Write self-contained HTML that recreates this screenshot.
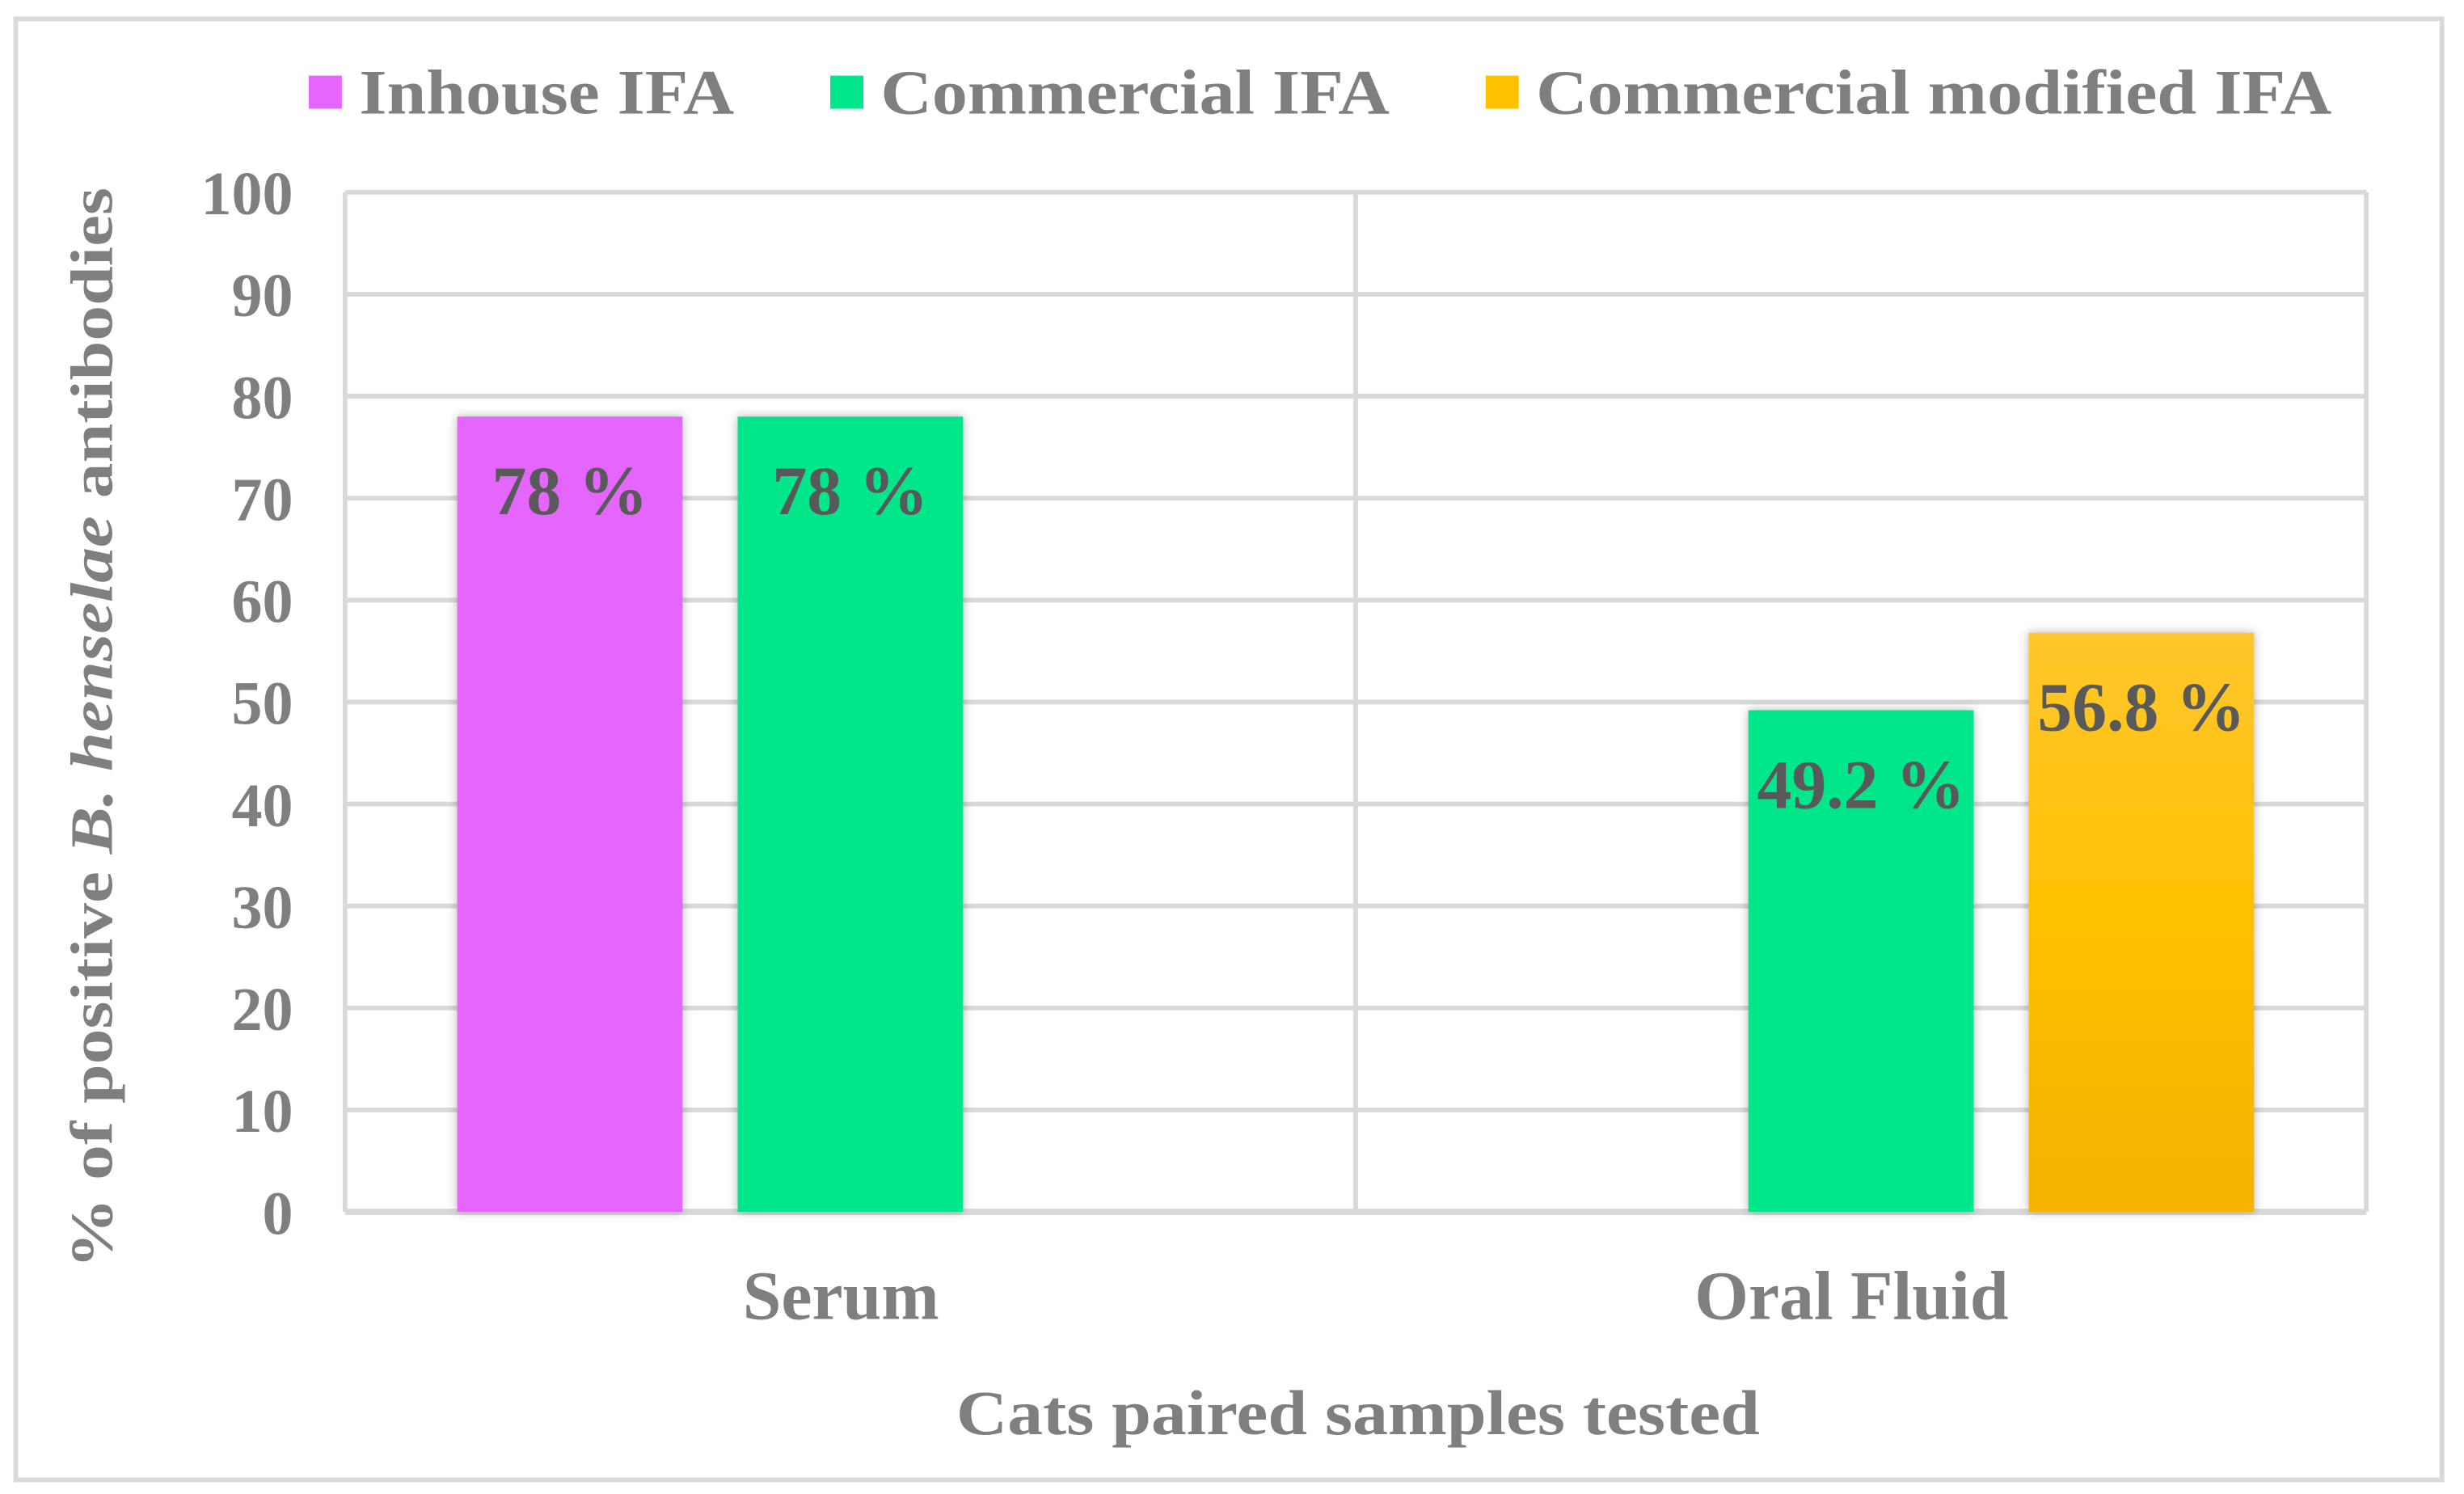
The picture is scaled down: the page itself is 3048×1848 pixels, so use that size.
<!DOCTYPE html>
<html><head><meta charset="utf-8"><style>
html,body{margin:0;padding:0;background:#fff;}
svg{display:block;}
text{font-family:"Liberation Serif",serif;font-weight:bold;}
</style></head><body>
<svg id="chart" width="3048" height="1848" viewBox="0 0 1564 948" preserveAspectRatio="none" xmlns="http://www.w3.org/2000/svg">
<defs>
<linearGradient id="og" x1="0" y1="0" x2="0" y2="1"><stop offset="0" stop-color="#ffc72e"/><stop offset="0.5" stop-color="#ffc000"/><stop offset="1" stop-color="#f5b300"/></linearGradient>
<filter id="sh" x="-20%" y="-5%" width="140%" height="110%"><feDropShadow dx="0" dy="0" stdDeviation="3" flood-color="#000" flood-opacity="0.3"/></filter>
</defs>
<rect x="10" y="12" width="1540" height="927" fill="#fff" stroke="#d9d9d9" stroke-width="3"/>
<g id="grid"></g>
<g id="bars"></g>
<g id="labels"></g>
<g>
<rect x="196" y="48" width="21" height="21" fill="#e466ff"/>
<text x="228" y="72" font-size="40" fill="#7f7f7f" textLength="238" lengthAdjust="spacingAndGlyphs">Inhouse IFA</text>
<rect x="527" y="48" width="21" height="21" fill="#00e68a"/>
<text x="559" y="72" font-size="40" fill="#7f7f7f" textLength="323" lengthAdjust="spacingAndGlyphs">Commercial IFA</text>
<rect x="943" y="48" width="21" height="21" fill="#ffc000"/>
<text x="975" y="72" font-size="40" fill="#7f7f7f" textLength="505" lengthAdjust="spacingAndGlyphs">Commercial modified IFA</text>
</g>
<text transform="translate(71,462) rotate(-90)" text-anchor="middle" font-size="38" fill="#7f7f7f" textLength="686" lengthAdjust="spacingAndGlyphs">% of positive <tspan font-style="italic">B. henselae</tspan> antibodies</text>
<text x="862" y="910" text-anchor="middle" font-size="40" fill="#7f7f7f" textLength="510" lengthAdjust="spacingAndGlyphs">Cats paired samples tested</text>
</svg>
<script>
const categories = ["Serum", "Oral Fluid"];
const seriesNames = ["Inhouse IFA", "Commercial IFA", "Commercial modified IFA"];
const inhouseValues = [78, null];
const commercialValues = [78, 49.2];
const modifiedValues = [null, 56.8];
const valueLabels = [["78 %", null], ["78 %", "49.2 %"], [null, "56.8 %"]];
const yTicks = [0, 10, 20, 30, 40, 50, 60, 70, 80, 90, 100];

const NS = "http://www.w3.org/2000/svg";
const plot = {l: 219, r: 1502, t: 122, b: 769};
const yMax = 100;
function y(v){ return plot.b - (v / yMax) * (plot.b - plot.t); }
const catW = (plot.r - plot.l) / categories.length;
function catX(i){ return plot.l + catW * i; }
const barW = 143, gap = 35;
function barX(ci, si){
  const total = seriesNames.length * barW + (seriesNames.length - 1) * gap;
  return catX(ci) + (catW - total) / 2 + si * (barW + gap);
}
function mk(tag, attrs, parent){
  const e = document.createElementNS(NS, tag);
  for (const k in attrs) e.setAttribute(k, attrs[k]);
  parent.appendChild(e);
  return e;
}
const grid = document.getElementById('grid');
const bars = document.getElementById('bars');
const labels = document.getElementById('labels');

yTicks.forEach(t => {
  const ln = mk('line', {x1: plot.l, x2: plot.r, y1: y(t), y2: y(t), stroke: '#d9d9d9', 'stroke-width': t === 0 ? 4 : 3}, grid);
  
  
  const tx = mk('text', {x: 186, y: y(t) + 14, 'text-anchor': 'end', 'font-size': 39, fill: '#7f7f7f'}, labels);
  tx.textContent = String(t);
  
  
});
for (let i = 0; i <= categories.length; i++){
  const ln = mk('line', {x1: catX(i), x2: catX(i), y1: plot.t, y2: plot.b, stroke: '#d9d9d9', 'stroke-width': 3}, grid);
  
  
}
const allSeries = [inhouseValues, commercialValues, modifiedValues];
const fills = ['#e466ff', '#00e68a', 'url(#og)'];
const slugs = ['inhouse', 'commercial', 'modified'];
categories.forEach((c, ci) => {
  allSeries.forEach((vals, si) => {
    const v = vals[ci];
    if (v == null) return;
    const r = mk('rect', {x: barX(ci, si), y: y(v), width: barW, height: y(0) - y(v), fill: fills[si], filter: 'url(#sh)'}, bars);
    
    
    const lab = valueLabels[si][ci];
    if (lab){
      const t = mk('text', {x: barX(ci, si) + barW / 2, y: y(v) + 62, 'text-anchor': 'middle', 'font-size': 44, fill: '#595959'}, labels);
      t.textContent = lab;
      
      
    }
  });
  const ct = mk('text', {x: catX(ci) + catW / 2 - 6, y: 837, 'text-anchor': 'middle', 'font-size': 44, fill: '#7f7f7f'}, labels);
  ct.textContent = c;
  
  
});
</script>
</body></html>
